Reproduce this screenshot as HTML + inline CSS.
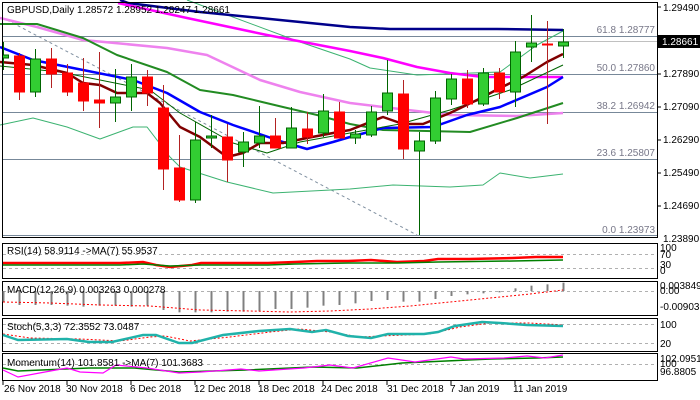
<!DOCTYPE html>
<html><head><meta charset="utf-8"><style>
body{margin:0;background:#fff;}
svg{display:block;font-family:"Liberation Sans",sans-serif;}
.t{font-size:10px;fill:#000}
.f{font-size:10px;fill:#778}
</style></head><body>
<svg id="s" width="700" height="400" xmlns="http://www.w3.org/2000/svg">
<rect width="700" height="400" fill="#fff"/>
<!-- fib / price lines -->
<g stroke="#778899" stroke-width="1">
<line x1="2" y1="36.5" x2="657" y2="36.5"/>
<line x1="2" y1="74.5" x2="657" y2="74.5"/>
<line x1="2" y1="112.5" x2="657" y2="112.5"/>
<line x1="2" y1="159.5" x2="657" y2="159.5"/>
<line x1="2" y1="235.5" x2="657" y2="235.5"/>
</g>
<line x1="2" y1="41.5" x2="657" y2="41.5" stroke="#c0c0c0"/>
<line x1="7" y1="20" x2="417" y2="235" stroke="#8090a0" stroke-dasharray="3,3"/>
<g class="f" text-anchor="end">
<text x="655" y="33">61.8 1.28777</text>
<text x="655" y="71">50.0 1.27860</text>
<text x="655" y="109">38.2 1.26942</text>
<text x="655" y="156">23.6 1.25807</text>
<text x="655" y="233">0.0 1.23973</text>
</g>
<g fill="none" stroke-linejoin="round">
<polyline stroke="#3cb371" stroke-width="1" points="187,0 300,42 350,59 370,68 417,75 500,72 537,45 563,31"/>
<polyline stroke="#3cb371" stroke-width="1" points="0,125 33,118 67,127 100,139 133,127 147,127 170,157 180,167 227,182 273,193 350,189 393,185 450,187 483,185 500,173 530,178 563,174"/>
<polyline stroke="#00008b" stroke-width="2.5" points="120,0 128,3 200,12 280,20 350,27 390,29 497,29 563,30"/>
<polyline stroke="#ff00ff" stroke-width="2.5" points="118,3 187,18 267,35 350,51 383,58 417,67 450,73 483,77 563,77"/>
<polyline stroke="#ee82ee" stroke-width="2.5" points="0,18 37,27 83,40 167,48 207,55 260,80 300,92 350,103 383,107 450,115 517,116 563,113"/>
<polyline stroke="#228b22" stroke-width="2" points="0,24 37,24 83,38 117,55 167,72 200,90 233,95 283,107 317,115 350,124 383,130 470,132 517,118 563,103"/>
<polyline stroke="#0000ff" stroke-width="2.5" points="0,47 33,60 83,70 133,80 167,93 200,112 233,125 283,142 307,149 333,142 350,137 383,128 433,127 467,115 500,107 547,87 563,77"/>
<polyline stroke="#006400" stroke-width="1" points="0,66 60,72 100,80 150,90 180,113 233,143 267,153 300,142 350,133 400,124 450,110 480,100 510,90 563,65"/>
<polyline stroke="#800000" stroke-width="2.5" points="0,62 33,65 67,73 83,83 100,85 117,93 147,93 160,103 180,127 200,137 227,157 243,153 260,143 283,143 307,138 333,133 350,130 383,117 403,124 423,124 450,113 477,100 500,88 523,77 547,62 563,54"/>
</g>
<g id="candles"></g>
<!-- frames -->
<g fill="none" stroke="#000" stroke-width="1">
<rect x="2.5" y="2.5" width="655" height="235"/>
<rect x="2.5" y="243.5" width="655" height="35"/>
<rect x="2.5" y="281.5" width="655" height="34"/>
<rect x="2.5" y="318.5" width="655" height="33"/>
<rect x="2.5" y="353.5" width="655" height="27"/>
</g>
<text class="t" x="7" y="13" font-size="11">GBPUSD,Daily  1.28572 1.28952 1.28247 1.28661</text>
<!-- price axis -->
<g class="t">
<text x="663" y="11">1.29490</text>
<text x="663" y="77">1.27890</text>
<text x="663" y="110">1.27090</text>
<text x="663" y="143">1.26290</text>
<text x="663" y="176">1.25490</text>
<text x="663" y="209">1.24690</text>
<text x="663" y="242">1.23890</text>
</g>
<g stroke="#000"><line x1="657" y1="7" x2="661" y2="7"/><line x1="657" y1="74" x2="661" y2="74"/><line x1="657" y1="107" x2="661" y2="107"/><line x1="657" y1="140" x2="661" y2="140"/><line x1="657" y1="173" x2="661" y2="173"/><line x1="657" y1="206" x2="661" y2="206"/></g>
<rect x="658" y="35" width="42" height="13" fill="#000"/>
<text x="662" y="45" font-size="10" fill="#fff">1.28661</text>
<!-- RSI -->
<g stroke="#b0b0b0" stroke-dasharray="3,3"><line x1="3" y1="254.5" x2="657" y2="254.5"/><line x1="3" y1="268.5" x2="657" y2="268.5"/>
<line x1="3" y1="291.5" x2="657" y2="291.5"/><line x1="3" y1="324.5" x2="657" y2="324.5"/><line x1="3" y1="343.5" x2="657" y2="343.5"/><line x1="3" y1="364.5" x2="657" y2="364.5"/></g>
<polyline fill="none" stroke="#ff0000" stroke-width="2.5" points="3,263 54,263 120,263 143,262 156,265 170,267 192,265 201,263 268,263 295,262 317,261 348,261 371,260 397,262 424,261 438,259 469,259 513,258 536,257 563,257"/>
<polyline fill="none" stroke="#008000" stroke-width="1.5" points="3,265 54,265 120,265 143,264 170,266 201,265 268,265 295,264 348,263 397,263 438,262 513,261 563,260"/>
<text class="t" x="7" y="254">RSI(14) 58.9114  -&gt;MA(7) 55.9537</text>
<g class="t" font-size="9"><text x="660" y="251">100</text><text x="660" y="258">70</text><text x="660" y="268">30</text><text x="660" y="274">0</text></g>
<!-- MACD -->
<g id="macd"></g>
<polyline fill="none" stroke="#ff0000" stroke-dasharray="2,2" points="3,302 50,303 100,305 150,306 200,310 250,311 290,312 330,311 370,309 410,306 450,302 500,297 530,294 563,290"/>
<text class="t" x="7" y="293">MACD(12,26,9) 0.003263 0.000278</text>
<g class="t" font-size="9"><text x="660" y="289">0.003849</text><text x="660" y="294">0.00</text><text x="660" y="310">-0.009031</text></g>
<!-- Stoch -->
<polyline fill="none" stroke="#ff0000" stroke-dasharray="2,2" points="3,334 30,338 80,339 120,341 150,337 165,336 190,341 230,337 270,332 300,329 330,332 360,337 380,336 430,334 460,327 490,323 530,323 563,325"/>
<polyline fill="none" stroke="#20b2aa" stroke-width="2.5" points="3,335 18,340 67,339 89,342 112,342 143,335 156,335 179,343 192,343 223,335 259,331 290,329 312,332 326,330 348,336 371,338 388,334 424,334 438,332 455,326 482,322 500,323 527,325 563,326"/>
<text class="t" x="7" y="330">Stoch(5,3,3) 72.3552 73.0487</text>
<g class="t" font-size="9"><text x="660" y="328">100</text><text x="660" y="347">20</text></g>
<!-- Momentum -->
<polyline fill="none" stroke="#008000" stroke-width="1.5" points="3,368 18,371 89,368 134,368 179,372 246,370 313,367 357,368 402,363 446,361 491,359 536,358 563,357"/>
<polyline fill="none" stroke="#ff00ff" stroke-width="1.2" points="3,370 18,377 45,372 67,368 80,372 103,373 116,365 147,368 179,373 201,372 241,369 259,371 304,368 330,365 353,368 388,358 415,362 451,357 464,359 504,358 527,356 545,358 563,355"/>
<text class="t" x="7" y="366">Momentum(14) 101.8581  -&gt;MA(7) 101.3683</text>
<g class="t" font-size="9"><text x="660" y="362">102.0951</text><text x="660" y="367">100</text><text x="660" y="375">96.8805</text></g>
<!-- dates -->
<g class="t">
<text x="4" y="392">26 Nov 2018</text><text x="66" y="392">30 Nov 2018</text><text x="130" y="392">6 Dec 2018</text>
<text x="194" y="392">12 Dec 2018</text><text x="258" y="392">18 Dec 2018</text><text x="321" y="392">24 Dec 2018</text>
<text x="387" y="392">31 Dec 2018</text><text x="450" y="392">7 Jan 2019</text><text x="513" y="392">11 Jan 2019</text>
</g>
<g stroke="#000"><line x1="3" y1="381" x2="3" y2="385"/><line x1="67" y1="381" x2="67" y2="385"/><line x1="131" y1="381" x2="131" y2="385"/><line x1="195" y1="381" x2="195" y2="385"/><line x1="259" y1="381" x2="259" y2="385"/><line x1="323" y1="381" x2="323" y2="385"/><line x1="387" y1="381" x2="387" y2="385"/><line x1="451" y1="381" x2="451" y2="385"/><line x1="515" y1="381" x2="515" y2="385"/></g>
</svg>
<script>
var C=[[1,55,58,42,70],[0,56,92,53,100],[1,59,92,49,97],[0,59,74,48,88],[0,73,92,64,96],[0,83,101,58,111],[0,100,103,52,128],[1,97,103,69,122],[1,77,97,64,111],[0,77,93,70,106],[0,108,169,85,190],[0,168,200,135,202],[1,140,200,122,203],[1,136,138,115,148],[0,137,160,124,182],[1,142,152,132,167],[1,136,143,106,148],[0,136,148,118,148],[1,128,148,107,148],[0,129,137,112,144],[1,111,133,94,137],[0,112,138,102,138],[1,134,138,130,144],[1,112,135,106,137],[1,93,111,60,115],[0,94,149,80,159],[1,141,151,132,235],[1,98,141,91,144],[1,79,99,74,105],[0,79,104,70,108],[1,73,104,68,106],[0,73,92,68,99],[1,52,92,41,107],[1,43,47,15,62],[0,44,45,21,124],[1,42,46,29,58]];
var ns="http://www.w3.org/2000/svg",g=document.getElementById("candles"),h="";
C.forEach(function(c,i){var x=3.5+16*i,col=c[0]?"#32cd32":"#ff0000",ln=c[0]?"#006400":"#b22222";
h+='<line x1="'+x+'" y1="'+c[3]+'" x2="'+x+'" y2="'+c[4]+'" stroke="'+ln+'"/>';
var x0=Math.max(x-5,2.5);h+='<rect x="'+x0+'" y="'+c[1]+'" width="'+(x+5-x0)+'" height="'+Math.max(c[2]-c[1],1)+'" fill="'+col+'" stroke="'+(c[0]?"#006400":"#ff0000")+'" stroke-width="1"/>';});
g.innerHTML=h;
var D=[200,210,210,210,212,215,212,212,215,212,225,232,232,232,230,230,228,222,222,218,212,210,205,198,195,200,200,192,183,178,175,172,160,152,148,143],m="";
D.forEach(function(d,i){var x=3.5+16*i,y=235+d/3;m+='<line x1="'+x+'" y1="291" x2="'+x+'" y2="'+y+'" stroke="#808080" stroke-width="2"/>';});
document.getElementById("macd").innerHTML=m;
</script>
</body></html>
